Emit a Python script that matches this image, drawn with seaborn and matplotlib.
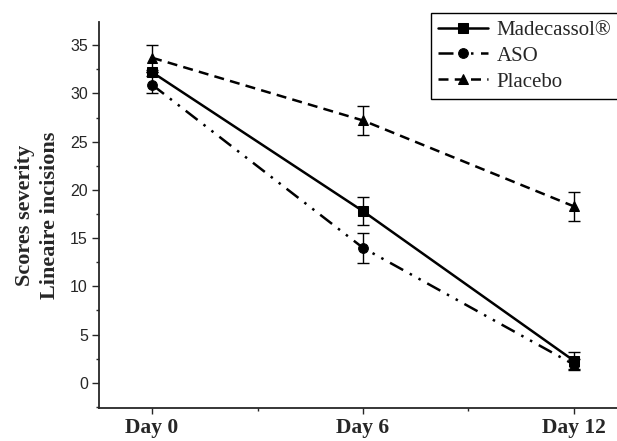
import matplotlib
matplotlib.use("Agg")
import matplotlib.pyplot as plt
import seaborn as sns
import pandas as pd
import numpy as np
from matplotlib.ticker import MultipleLocator, FixedLocator

days = [0, 6, 12]
day_labels = ["Day 0", "Day 6", "Day 12"]
groups = ["Madecassol®", "ASO", "Placebo"]
madecassol = [32.2, 17.8, 2.3]
madecassol_err = [0.0, 1.45, 0.9]
aso = [30.9, 14.0, 1.9]
aso_err = [0.9, 1.55, 0.6]
placebo = [33.7, 27.2, 18.3]
placebo_err = [1.3, 1.5, 1.5]

values = {"Madecassol®": madecassol, "ASO": aso, "Placebo": placebo}
errors = {"Madecassol®": madecassol_err, "ASO": aso_err, "Placebo": placebo_err}

rows = []
for g in groups:
    for d, v, e in zip(days, values[g], errors[g]):
        rows.append({"day": d, "score": v, "err": e, "group": g})
df = pd.DataFrame(rows)

sns.set_style("ticks")
plt.rcParams["font.family"] = ["Liberation Sans", "DejaVu Sans"]

fig = plt.figure(figsize=(6.17, 4.41), dpi=100)
ax = fig.add_axes([0.1605, 0.075, 0.8395, 0.875])

sns.lineplot(data=df, x="day", y="score", hue="group", style="group",
             hue_order=groups, style_order=groups,
             palette=["black"] * 3,
             dashes={"Madecassol®": "", "ASO": (6, 3, 1, 3, 1, 3), "Placebo": (4, 2.5)},
             markers={"Madecassol®": "s", "ASO": "o", "Placebo": "^"},
             markersize=7, markeredgecolor="black", linewidth=1.8,
             ax=ax, legend="auto")

for g in groups:
    sub = df[df.group == g]
    ax.errorbar(sub["day"], sub["score"], yerr=sub["err"], fmt="none",
                ecolor="black", elinewidth=1.0, capsize=4, capthick=1.0, zorder=1)

ax.set_xlim(-1.51, 13.23)
ax.set_ylim(-2.6, 37.4)
ax.xaxis.set_major_locator(FixedLocator(days))
ax.xaxis.set_minor_locator(FixedLocator([3, 9]))
ax.set_xticklabels(day_labels, fontfamily="Liberation Serif", fontweight="bold", fontsize=15.5)
ax.yaxis.set_major_locator(MultipleLocator(5))
ax.yaxis.set_minor_locator(MultipleLocator(2.5))
ax.tick_params(axis="y", which="major", labelsize=11.5, direction="out", length=5, width=1, pad=3)
ax.tick_params(axis="x", which="major", direction="out", length=4, width=1, pad=3)
ax.tick_params(which="minor", direction="out", length=2.5, width=1)
ax.set_xlabel("")
ax.set_ylabel("Scores severity\nLineaire incisions", fontfamily="Liberation Serif",
              fontweight="bold", fontsize=16, linespacing=1.35, labelpad=7)

for s in ["top", "right"]:
    ax.spines[s].set_visible(False)
for s in ["left", "bottom"]:
    ax.spines[s].set_linewidth(1.3)

leg = ax.legend(loc="upper left", bbox_to_anchor=(431 / 617, 1 - 13 / 441),
                bbox_transform=fig.transFigure, frameon=True,
                fancybox=False, edgecolor="black", framealpha=1,
                prop={"family": "Liberation Serif", "size": 15},
                handlelength=2.4, borderpad=0.35, labelspacing=0.3, handletextpad=0.4,
                borderaxespad=0)
leg.get_frame().set_linewidth(1.0)

fig.savefig("out.png", dpi=100)
